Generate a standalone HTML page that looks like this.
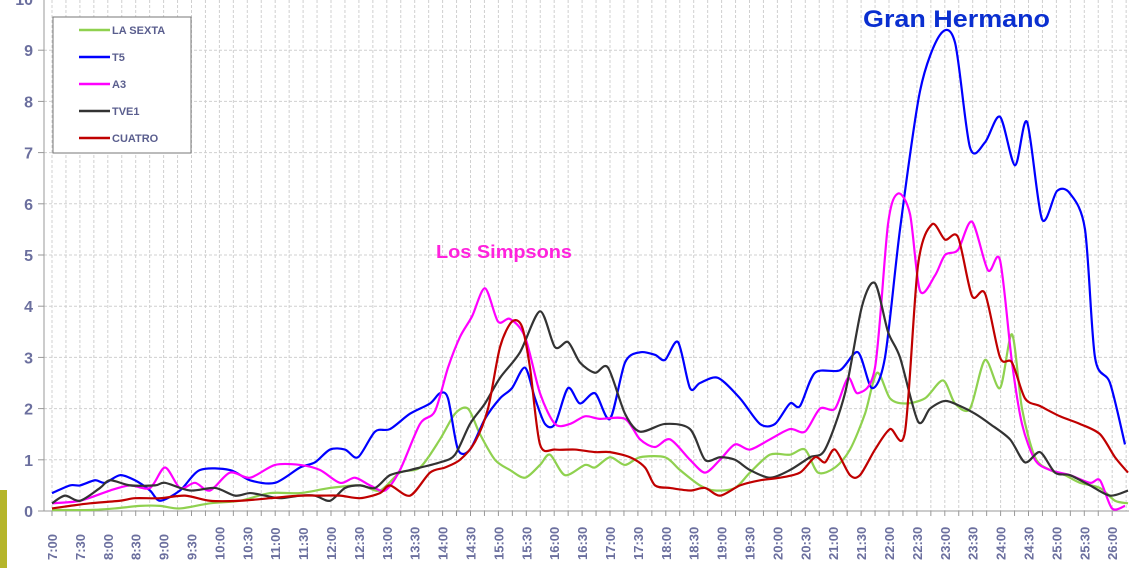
<!DOCTYPE html>
<html><head><meta charset="utf-8"><style>
html,body{margin:0;padding:0;background:#fff;width:1129px;height:568px;overflow:hidden}
svg text{font-family:"Liberation Sans",Arial,sans-serif}
</style></head><body>
<svg id="s" width="1129" height="568" xmlns="http://www.w3.org/2000/svg">
<rect x="0" y="490" width="7" height="78" fill="#b5b52a"/>
<g id="grid"></g>
<g id="axes"></g>
<g id="lines" fill="none" stroke-width="2.2" stroke-linejoin="round"></g>
<rect x="53" y="17" width="138" height="136" fill="#fff" stroke="#777" stroke-width="1"/>
<g font-size="11" font-weight="bold" fill="#5a5e8e">
<line x1="79" y1="30" x2="110" y2="30" stroke="#8fd14f" stroke-width="2.5"/><text x="112" y="34">LA SEXTA</text>
<line x1="79" y1="57" x2="110" y2="57" stroke="#0000ff" stroke-width="2.5"/><text x="112" y="61">T5</text>
<line x1="79" y1="84" x2="110" y2="84" stroke="#ff00ff" stroke-width="2.5"/><text x="112" y="88">A3</text>
<line x1="79" y1="111" x2="110" y2="111" stroke="#333" stroke-width="2.5"/><text x="112" y="115">TVE1</text>
<line x1="79" y1="138" x2="110" y2="138" stroke="#c00000" stroke-width="2.5"/><text x="112" y="142">CUATRO</text>
</g>
<text x="863" y="27" font-size="24.5" font-weight="bold" fill="#0a2fd0" textLength="187" lengthAdjust="spacingAndGlyphs">Gran Hermano</text>
<text x="436" y="258" font-size="18.5" font-weight="bold" fill="#ff22dd" textLength="136" lengthAdjust="spacingAndGlyphs">Los Simpsons</text>
</svg>
<script>
var X0=52,DX=27.9,Y0=511,DY=51.2,NS="http://www.w3.org/2000/svg";
function el(p,t,a,txt){var e=document.createElementNS(NS,t);for(var k in a)e.setAttribute(k,a[k]);if(txt!=null)e.textContent=txt;document.getElementById(p).appendChild(e);return e;}
for(var i=0;i<=80;i++){var x=X0+i*DX/2;if(x>1129)break;el('grid','line',{x1:x,y1:0,x2:x,y2:Y0,stroke:'#d0d0d0','stroke-dasharray':'3,2','stroke-width':1});}
for(var v=1;v<=10;v++){var y=Y0-v*DY;el('grid','line',{x1:44,y1:y,x2:1129,y2:y,stroke:'#d0d0d0','stroke-dasharray':'3,2','stroke-width':1});}
el('axes','line',{x1:44,y1:0,x2:44,y2:Y0,stroke:'#999','stroke-width':1});
el('axes','line',{x1:38,y1:Y0,x2:1129,y2:Y0,stroke:'#999','stroke-width':1});
for(var v=0;v<=10;v++){var y=Y0-v*DY;el('axes','line',{x1:38,y1:y,x2:44,y2:y,stroke:'#999'});el('axes','text',{x:33,y:y+6,'text-anchor':'end','font-size':16,'font-weight':'bold',fill:'#6b6f9e'},String(v));}
for(var i=0;i<=76;i++){var x=X0+i*DX/2;if(x>1129)break;el('axes','line',{x1:x,y1:Y0,x2:x,y2:Y0+5,stroke:'#999'});}
for(var i=0;i<=38;i++){var x=X0+i*DX;var h=7+Math.floor(i/2),m=i%2?'30':'00';el('axes','text',{x:0,y:0,transform:'translate('+(x+5)+',560) rotate(-90)','font-size':13,'font-weight':'bold',fill:'#6b6f9e'},h+':'+m);}
var S={
'#8fd14f':[[52,0.02],[90,0.02],[115,0.05],[140,0.1],[160,0.1],[180,0.05],[210,0.15],[240,0.2],[270,0.35],[300,0.35],[330,0.45],[360,0.5],[380,0.4],[400,0.75],[420,0.85],[440,1.4],[455,1.9],[468,2.0],[480,1.5],[495,1.0],[510,0.8],[525,0.65],[540,0.9],[550,1.1],[565,0.7],[585,0.9],[595,0.85],[610,1.05],[625,0.9],[640,1.05],[665,1.05],[680,0.8],[700,0.5],[715,0.4],[735,0.45],[750,0.75],[770,1.1],[790,1.1],[805,1.2],[818,0.75],[835,0.85],[850,1.2],[865,1.9],[877,2.7],[890,2.2],[905,2.1],[925,2.2],[943,2.55],[955,2.1],[970,2.0],[985,2.95],[1000,2.4],[1012,3.45],[1022,2.0],[1035,1.05],[1050,0.8],[1065,0.7],[1080,0.55],[1100,0.45],[1115,0.2],[1128,0.15]],
'#0000ff':[[52,0.35],[70,0.5],[80,0.5],[95,0.6],[105,0.55],[120,0.7],[135,0.6],[150,0.4],[160,0.2],[180,0.4],[200,0.8],[230,0.8],[250,0.6],[275,0.55],[300,0.85],[315,0.95],[330,1.2],[345,1.2],[358,1.05],[375,1.55],[390,1.6],[410,1.9],[430,2.1],[440,2.3],[448,2.2],[458,1.2],[470,1.2],[485,1.8],[500,2.2],[512,2.4],[525,2.8],[535,2.2],[545,1.7],[555,1.7],[568,2.4],[580,2.1],[595,2.3],[610,1.8],[625,2.9],[640,3.1],[655,3.05],[665,2.95],[678,3.3],[690,2.4],[700,2.5],[718,2.6],[740,2.2],[760,1.7],[775,1.7],[790,2.1],[800,2.05],[815,2.7],[840,2.75],[858,3.1],[872,2.4],[885,3.0],[900,5.5],[920,8.2],[940,9.3],[955,9.15],[970,7.1],[985,7.2],[1000,7.7],[1015,6.75],[1027,7.6],[1042,5.7],[1057,6.25],[1070,6.2],[1085,5.5],[1095,3.0],[1110,2.5],[1125,1.3]],
'#ff00ff':[[52,0.15],[80,0.2],[110,0.4],[130,0.5],[150,0.45],[165,0.85],[180,0.45],[195,0.55],[210,0.4],[230,0.75],[250,0.65],[275,0.9],[300,0.9],[320,0.8],[340,0.55],[355,0.65],[370,0.5],[385,0.4],[400,0.8],[420,1.7],[435,1.95],[448,2.8],[460,3.4],[472,3.8],[485,4.35],[498,3.7],[510,3.75],[525,3.4],[540,2.3],[555,1.7],[570,1.7],[585,1.85],[600,1.8],[625,1.8],[640,1.4],[655,1.25],[670,1.4],[690,1.0],[705,0.75],[720,1.0],[735,1.3],[750,1.2],[770,1.4],[790,1.6],[805,1.55],[820,2.0],[835,2.0],[848,2.6],[858,2.3],[875,2.8],[888,5.6],[898,6.2],[910,5.8],[920,4.3],[935,4.6],[945,5.0],[958,5.1],[972,5.65],[988,4.7],[1000,4.9],[1012,2.9],[1022,1.7],[1035,1.0],[1050,0.8],[1070,0.7],[1090,0.55],[1100,0.6],[1112,0.05],[1125,0.1]],
'#333333':[[52,0.15],[65,0.3],[80,0.2],[100,0.45],[110,0.6],[130,0.5],[155,0.5],[165,0.55],[190,0.4],[215,0.45],[235,0.3],[250,0.35],[265,0.3],[280,0.25],[300,0.3],[315,0.3],[330,0.2],[345,0.45],[360,0.5],[375,0.45],[390,0.7],[410,0.8],[440,0.95],[455,1.1],[470,1.7],[485,2.1],[500,2.6],[520,3.1],[540,3.9],[555,3.2],[568,3.3],[580,2.9],[595,2.7],[608,2.8],[625,1.9],[640,1.55],[665,1.7],[690,1.6],[705,1.0],[720,1.05],[735,1.0],[750,0.8],[770,0.65],[790,0.8],[810,1.05],[825,1.2],[845,2.3],[862,4.0],[875,4.45],[888,3.5],[900,3.0],[918,1.75],[930,2.0],[945,2.15],[960,2.05],[975,1.9],[990,1.7],[1010,1.4],[1025,0.95],[1040,1.15],[1055,0.75],[1070,0.7],[1090,0.5],[1110,0.3],[1128,0.4]],
'#c00000':[[52,0.05],[70,0.1],[90,0.15],[120,0.2],[135,0.25],[160,0.25],[185,0.3],[210,0.2],[240,0.2],[270,0.25],[300,0.3],[320,0.3],[340,0.3],[360,0.25],[380,0.35],[390,0.5],[410,0.3],[430,0.75],[445,0.85],[460,1.0],[475,1.35],[488,2.0],[500,3.2],[512,3.7],[522,3.6],[530,2.8],[540,1.3],[555,1.2],[575,1.2],[595,1.15],[610,1.15],[630,1.05],[645,0.85],[655,0.5],[670,0.45],[690,0.4],[705,0.45],[720,0.3],[740,0.5],[760,0.6],[780,0.65],[800,0.75],[815,1.05],[825,0.95],[835,1.2],[850,0.7],[860,0.7],[875,1.2],[890,1.6],[905,1.55],[918,4.8],[932,5.6],[945,5.3],[958,5.35],[972,4.2],[985,4.25],[1000,3.0],[1012,2.9],[1025,2.2],[1040,2.05],[1060,1.85],[1080,1.7],[1100,1.5],[1115,1.05],[1128,0.75]]};
for(var c in S){var p=S[c].map(function(q){return [q[0],Y0-q[1]*DY]});var d='M'+p[0][0]+','+p[0][1];
for(var i=0;i<p.length-1;i++){var a=p[i-1]||p[i],b=p[i],e=p[i+1],f=p[i+2]||e;
d+=' C'+(b[0]+(e[0]-a[0])/7)+','+(b[1]+(e[1]-a[1])/7)+' '+(e[0]-(f[0]-b[0])/7)+','+(e[1]-(f[1]-b[1])/7)+' '+e[0]+','+e[1];}
el('lines','path',{d:d,stroke:c});}
</script>
</body></html>
